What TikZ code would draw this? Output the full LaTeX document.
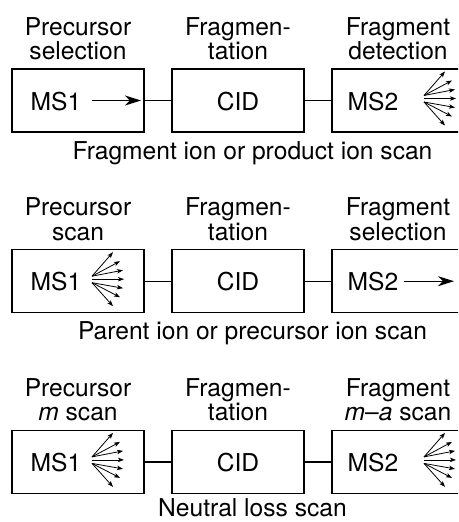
\documentclass[tikz,border=0pt]{standalone}
\usepackage{fontspec}
\setmainfont{TeX Gyre Heros}
\usetikzlibrary{arrows.meta}
\newcommand\fanat[1]{%
  \foreach \dx/\dy/\oy in {21/-27/-3, 28/-18/-3, 31/-9/-3, 32/0/0, 31/9/3.5, 28/18/3.5, 21/27/3.5}
    \draw[fanarrow] ([shift={(0,\oy)}]#1) -- ([shift={(\dx,\dy)}]#1);%
}
\begin{document}
\begin{tikzpicture}[x=1pt,y=-1pt,
  font=\fontsize{24.6}{26}\selectfont,
  box/.style={draw, line width=1.3pt, minimum width=132pt, minimum height=63pt, inner sep=0pt},
  lbl/.style={anchor=base, inner sep=0pt},
  link/.style={line width=1.3pt},
  fanarrow/.style={line width=0.8pt, -{Stealth[length=6pt,width=4.4pt,inset=1.5pt]}},
  bigarrow/.style={line width=1.3pt, -{Stealth[length=16pt,width=10pt,inset=5pt]}}]
\useasboundingbox (0,0) rectangle (458,522);
\clip (0,0) rectangle (458,522);

% ---------- Row 1 ----------
\node[box] (a1) at (78,100.5) {};
\node[box] (a2) at (238,100.5) {};
\node[box] (a3) at (398,100.5) {};
\draw[link] (a1.east) -- (a2.west);
\draw[link] (a2.east) -- (a3.west);
\node[lbl] (ams1) at (56,110) {MS1};
\node[lbl] (acid) at (238,110) {CID};
\node[lbl] (ams2) at (373,110) {MS2};
\node[lbl] (ah1a) at (78,35) {Precursor};
\node[lbl] (ah1b) at (78,59.3) {selection};
\node[lbl] (ah2a) at (238,35) {Fragmen-};
\node[lbl] (ah2b) at (238,59.3) {tation};
\node[lbl] (ah3a) at (398,35) {Fragment};
\node[lbl] (ah3b) at (398,59.3) {detection};
\node[lbl] (acap) at (252.5,159) {Fragment ion or product ion scan};
\coordinate (aarS) at (92,100.5);
\coordinate (aarE) at (141,100.5);
\draw[bigarrow] (aarS) -- (aarE);
\coordinate (afan) at (424,98.5);
\fanat{afan}

% ---------- Row 2 ----------
\node[box] (b1) at (78,281.2) {};
\node[box] (b2) at (238,281.2) {};
\node[box] (b3) at (398,281.2) {};
\draw[link] (b1.east) -- (b2.west);
\draw[link] (b2.east) -- (b3.west);
\node[lbl] (bms1) at (56,290.7) {MS1};
\node[lbl] (bcid) at (238,290.7) {CID};
\node[lbl] (bms2) at (373,290.7) {MS2};
\node[lbl] (bh1a) at (78,215.7) {Precursor};
\node[lbl] (bh1b) at (78,240) {scan};
\node[lbl] (bh2a) at (238,215.7) {Fragmen-};
\node[lbl] (bh2b) at (238,240) {tation};
\node[lbl] (bh3a) at (398,215.7) {Fragment};
\node[lbl] (bh3b) at (398,240) {selection};
\node[lbl] (bcap) at (252.5,339.7) {Parent ion or precursor ion scan};
\coordinate (barS) at (404,281.2);
\coordinate (barE) at (454,281.2);
\draw[bigarrow] (barS) -- (barE);
\coordinate (bfan) at (92,279.2);
\fanat{bfan}

% ---------- Row 3 ----------
\node[box] (c1) at (78,461.9) {};
\node[box] (c2) at (238,461.9) {};
\node[box] (c3) at (398,461.9) {};
\draw[link] (c1.east) -- (c2.west);
\draw[link] (c2.east) -- (c3.west);
\node[lbl] (cms1) at (56,471.4) {MS1};
\node[lbl] (ccid) at (238,471.4) {CID};
\node[lbl] (cms2) at (373,471.4) {MS2};
\node[lbl] (ch1a) at (78,396.4) {Precursor};
\node[lbl] (ch1b) at (78,420.7) {\textit{m} scan};
\node[lbl] (ch2a) at (238,396.4) {Fragmen-};
\node[lbl] (ch2b) at (238,420.7) {tation};
\node[lbl] (ch3a) at (398,396.4) {Fragment};
\node[lbl] (ch3b) at (398,420.7) {\textit{m}–\textit{a} scan};
\node[lbl] (ccap) at (252.5,516.5) {Neutral loss scan};
\coordinate (cfan1) at (92,459.9);
\fanat{cfan1}
\coordinate (cfan2) at (424,459.9);
\fanat{cfan2}
\end{tikzpicture}
\end{document}
